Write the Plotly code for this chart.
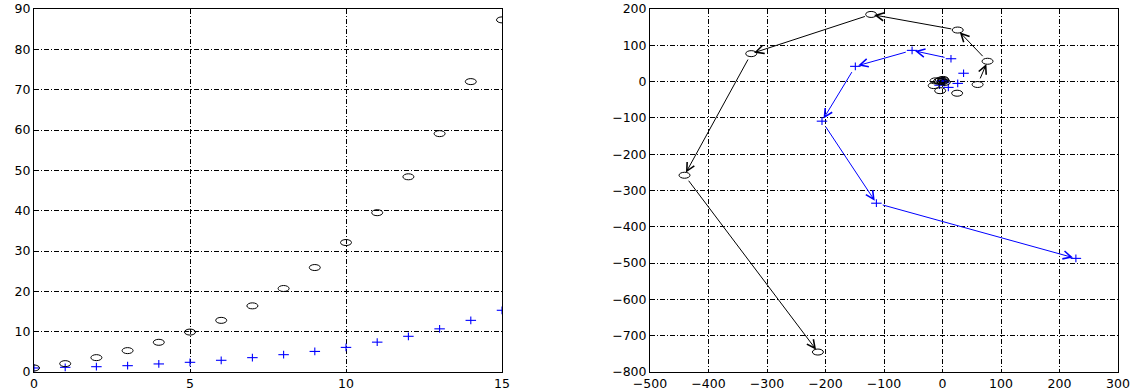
import plotly.graph_objects as go

# ---- data: left panel ----
k = list(range(16))
circ_left = [1.0, 2.07, 3.56, 5.3, 7.36, 9.9, 12.8, 16.4, 20.7, 25.9, 32.1, 39.5, 48.4, 59.1, 72.0, 87.3]
plus_left = [1.0, 1.16, 1.32, 1.57, 2.0, 2.4, 2.9, 3.56, 4.3, 5.1, 6.1, 7.4, 8.85, 10.7, 12.8, 15.3]

# ---- data: right panel (spiral sequences, in order) ----
circ_x = [0, 2, -3, 4, 1, -6, -12, -15, -4, 25, 60, 77, 26, -122, -327, -441, -213]
circ_y = [0, 3, 4, -2, 6, 1, 2, -11, -25, -32, -8, 56, 142, 185, 77, -258, -745]
plus_x = [0, 2, -1, 3, -5, 10, 26, 36, 14.5, -52, -149, -206, -113, 228]
plus_y = [0, 2, 3, -2, -10, -16, -5, 23, 63, 86, 42, -109, -335, -487]
circ_arrow_start = 10   # arrows drawn from this index onward
plus_arrow_start = 8

left_xticks = [0, 5, 10, 15]
left_yticks = list(range(0, 100, 10))
right_xticks = list(range(-500, 400, 100))
right_yticks = list(range(-800, 300, 100))

BLUE = "#0000ff"
FONT = dict(family="DejaVu Sans, Liberation Sans, Arial", size=12.5, color="black")

fig = go.Figure()

def add_plus(xs, ys, xa, ya):
    fig.add_trace(go.Scatter(x=xs, y=ys, mode="markers", xaxis=xa, yaxis=ya,
                             marker=dict(symbol="line-ew-open", size=7.5, color=BLUE,
                                         line=dict(color=BLUE, width=1.1)),
                             showlegend=False, hoverinfo="x+y"))
    fig.add_trace(go.Scatter(x=xs, y=ys, mode="markers", xaxis=xa, yaxis=ya,
                             marker=dict(symbol="line-ns-open", size=5.5, color=BLUE,
                                         line=dict(color=BLUE, width=1.1)),
                             showlegend=False, hoverinfo="skip"))

def add_ellipses(xs, ys, xref, yref):
    for xv, yv in zip(xs, ys):
        fig.add_shape(type="circle", xref=xref, yref=yref,
                      xsizemode="pixel", ysizemode="pixel",
                      xanchor=xv, yanchor=yv, x0=-5.5, x1=5.5, y0=-3, y1=3,
                      line=dict(color="black", width=1))

# left panel
add_plus(k, plus_left, "x", "y")
add_ellipses(k, circ_left, "x", "y")

# right panel
add_plus(plus_x, plus_y, "x2", "y2")
add_ellipses(circ_x, circ_y, "x2", "y2")

def add_arrows(xs, ys, start, color):
    for i in range(start, len(xs) - 1):
        fig.add_annotation(x=xs[i + 1], y=ys[i + 1], ax=xs[i], ay=ys[i],
                           xref="x2", yref="y2", axref="x2", ayref="y2",
                           showarrow=True, arrowhead=5, arrowsize=1.6,
                           arrowwidth=1, arrowcolor=color, text="",
                           standoff=3, startstandoff=5)

add_arrows(circ_x, circ_y, circ_arrow_start, "black")
add_arrows(plus_x, plus_y, plus_arrow_start, BLUE)

grid = dict(showgrid=True, gridcolor="black", gridwidth=0.8, griddash="5px,2px,1px,2px",
            zeroline=False, showline=True, linecolor="black", linewidth=1, mirror=True,
            ticks="", tickfont=FONT, automargin=False)

L, R = 34, 16
W = 1134 - L - R

fig.update_layout(
    width=1134, height=390,
    margin=dict(l=L, r=R, t=9, b=18),
    paper_bgcolor="white", plot_bgcolor="white",
    showlegend=False,
    xaxis=dict(domain=[0, (502 - L) / W], range=[0, 15], tickvals=left_xticks,
               anchor="y", **grid),
    yaxis=dict(domain=[0, 1], range=[0, 90], tickvals=left_yticks, anchor="x", **grid),
    xaxis2=dict(domain=[(650 - L) / W, 1], range=[-500, 300], tickvals=right_xticks,
                anchor="y2", **grid),
    yaxis2=dict(domain=[0, 1], range=[-800, 200], tickvals=right_yticks, anchor="x2", **grid),
)

fig.write_html("out.html")
